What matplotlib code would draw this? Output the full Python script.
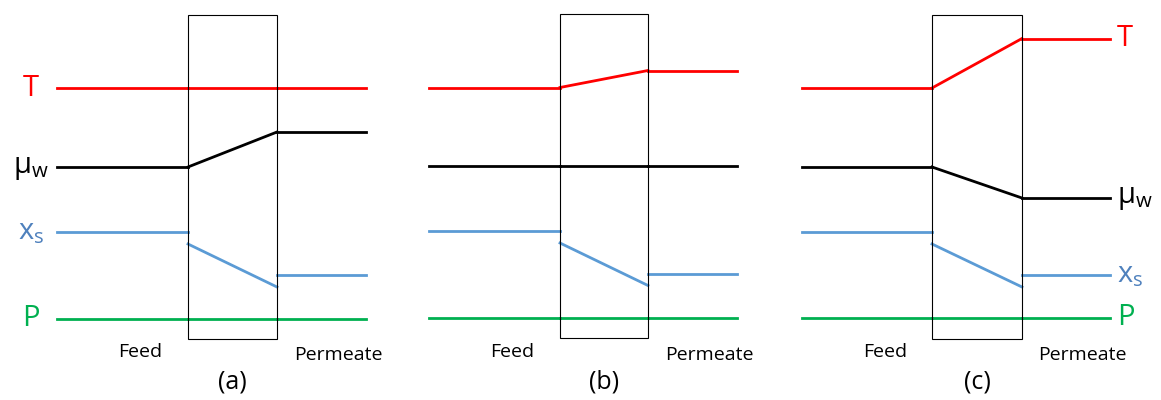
import matplotlib
matplotlib.use("Agg")
import matplotlib.pyplot as plt
from matplotlib.patches import Rectangle

plt.rcParams['font.family'] = ['Open Sans', 'DejaVu Sans']
plt.rcParams['mathtext.fontset'] = 'custom'
plt.rcParams['mathtext.rm'] = 'Open Sans'
plt.rcParams['mathtext.it'] = 'Open Sans'

# ---- data ----
panel_labels = ['(a)', '(b)', '(c)']
# x stations of each profile: feed start, membrane feed side, membrane permeate side, permeate end
x_stations = [[57, 188, 277, 366],
              [429, 560, 648, 737],
              [802, 932, 1022, 1110]]
# levels (screen units, larger = lower): feed bulk, membrane feed side, membrane permeate side, permeate bulk
T_levels = [[88, 88, 88, 88],
            [87.5, 87.5, 70.5, 70.5],
            [88, 88, 38.5, 38.5]]
mu_levels = [[167, 167, 132, 132],
             [165.5, 165.5, 165.5, 165.5],
             [167, 167, 198, 198]]
xs_levels = [[231.5, 244, 287, 275],
             [230.5, 243, 285.5, 274],
             [231.5, 244, 287, 275]]
P_levels = [[318.5, 318.5, 318.5, 318.5],
            [317.5, 317.5, 317.5, 317.5],
            [317.5, 317.5, 317.5, 317.5]]
box_top = [15, 14, 15]
box_bottom = [338.5, 337.5, 338.5]

var_names = ['T', r'$\mu_{\mathregular{w}}$', r'$\mathregular{x_s}$', 'P']
var_colors = ['#FF0000', '#000000', '#5B9BD5', '#00B050']
label_colors = ['#FF0000', '#000000', '#4F81BD', '#00B050']
all_levels = [T_levels, mu_levels, xs_levels, P_levels]

fig = plt.figure(figsize=(11.61, 4.0), dpi=100)
ax = fig.add_axes([0, 0, 1, 1])
ax.set_xlim(0, 1161)
ax.set_ylim(400, 0)
ax.axis('off')

lw = 2.0
for i in range(3):
    xs = x_stations[i]
    # membrane box
    ax.add_patch(Rectangle((xs[1], box_top[i]), xs[2] - xs[1], box_bottom[i] - box_top[i],
                           fill=False, edgecolor='#000000', linewidth=0.8, zorder=3))
    for levels, col in zip(all_levels, var_colors):
        feed, m_in, m_out, perm = levels[i]
        ax.plot([xs[0], xs[1]], [feed, feed], color=col, linewidth=lw, zorder=2)
        ax.plot([xs[1], xs[2]], [m_in, m_out], color=col, linewidth=lw, zorder=2)
        ax.plot([xs[2], xs[3]], [perm, perm], color=col, linewidth=lw, zorder=2)
    ax.text(xs[0] + 83, 352, 'Feed', fontsize=14, ha='center', va='center')
    ax.text(xs[3] - 28, 355, 'Permeate', fontsize=14, ha='center', va='center')
    ax.text((xs[1] + xs[2]) / 2, 382, panel_labels[i], fontsize=18, ha='center', va='center')

# variable labels: left of panel (a), right of panel (c)
for levels, name, col in zip(all_levels, var_names, label_colors):
    ax.text(31, levels[0][0], name, fontsize=21, color=col, ha='center', va='center')
    ax.text(1117, levels[2][3], name, fontsize=21, color=col, ha='left', va='center')

fig.savefig('out.png', dpi=100)
